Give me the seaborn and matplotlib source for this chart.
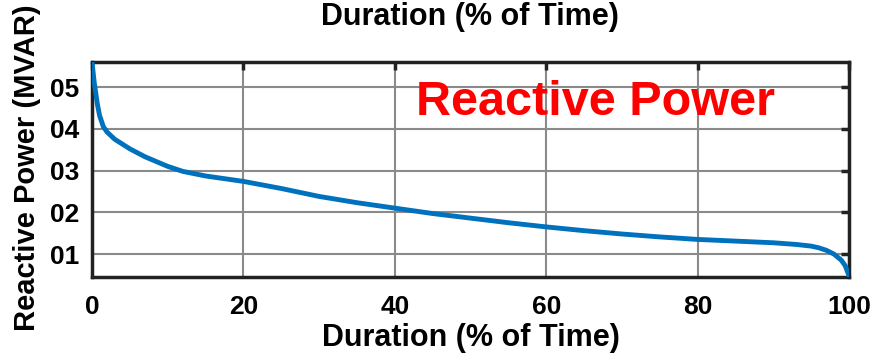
import matplotlib
matplotlib.use("Agg")
import matplotlib.pyplot as plt
import seaborn as sns
import pandas as pd

duration = [0, 0.3, 0.7, 1.0, 1.5, 2.0, 3.0, 5.0, 7.0, 10, 12, 15, 20, 25, 30, 35, 40, 45, 50, 55, 60, 65, 70, 75, 80, 85, 90, 93, 95, 96, 97, 98, 99, 99.5, 100]
reactive = [0.56, 0.51, 0.46, 0.432, 0.405, 0.392, 0.375, 0.352, 0.333, 0.31, 0.298, 0.287, 0.274, 0.257, 0.238, 0.223, 0.21, 0.197, 0.186, 0.175, 0.165, 0.156, 0.148, 0.141, 0.135, 0.131, 0.127, 0.123, 0.119, 0.115, 0.109, 0.1, 0.085, 0.072, 0.048]
xticks = [0, 20, 40, 60, 80, 100]
yticks = [0.1, 0.2, 0.3, 0.4, 0.5]
ytick_labels = ["01", "02", "03", "04", "05"]

df = pd.DataFrame({"Duration": duration, "Reactive": reactive})

sns.set_theme(style="white")
plt.rcParams['font.family'] = ['Liberation Sans', 'DejaVu Sans']
plt.rcParams['font.weight'] = 'bold'
plt.rcParams['text.color'] = 'black'
plt.rcParams['axes.labelcolor'] = 'black'

fig = plt.figure(figsize=(8.73, 3.55), dpi=100)
ax = fig.add_axes([92/873, 1-277/355, (849-92)/873, (277-62)/355])

sns.lineplot(data=df, x="Duration", y="Reactive", ax=ax, color="#0072BD", linewidth=3.5, zorder=5)

ax.set_xlim(0, 100)
ax.set_ylim(0.045, 0.56)
ax.set_xticks(xticks)
ax.set_xticklabels([str(t) for t in xticks], fontsize=19, fontweight='bold')
ax.set_yticks(yticks)
ax.set_yticklabels(ytick_labels, fontsize=19, fontweight='bold')
ax.grid(True, color="#8a8a8a", linewidth=1.5)
ax.tick_params(direction='in', length=6, width=2.5, top=True, right=True, colors='#222222', labelcolor='black')
ax.tick_params(axis='x', pad=13)
ax.tick_params(axis='y', pad=9)
for s in ax.spines.values():
    s.set_color('#222222')
    s.set_linewidth(2.5)

ax.set_xlabel("Duration (% of Time)", fontsize=22, fontweight='bold', labelpad=3, color='black')
ax.set_ylabel("Reactive Power (MVAR)", fontsize=21, fontweight='bold', color='black')
ax.yaxis.set_label_coords(-0.068, 0.51)

fig.text(470/873, 1-25/355, "Duration (% of Time)", fontsize=22, fontweight='bold', ha='center', va='baseline', color='black')
ax.text(0.665, 0.81, "Reactive Power", transform=ax.transAxes, color='#ff0000', fontsize=35, fontweight='bold', ha='center', va='center', zorder=6)

fig.savefig("out.png", dpi=100)
